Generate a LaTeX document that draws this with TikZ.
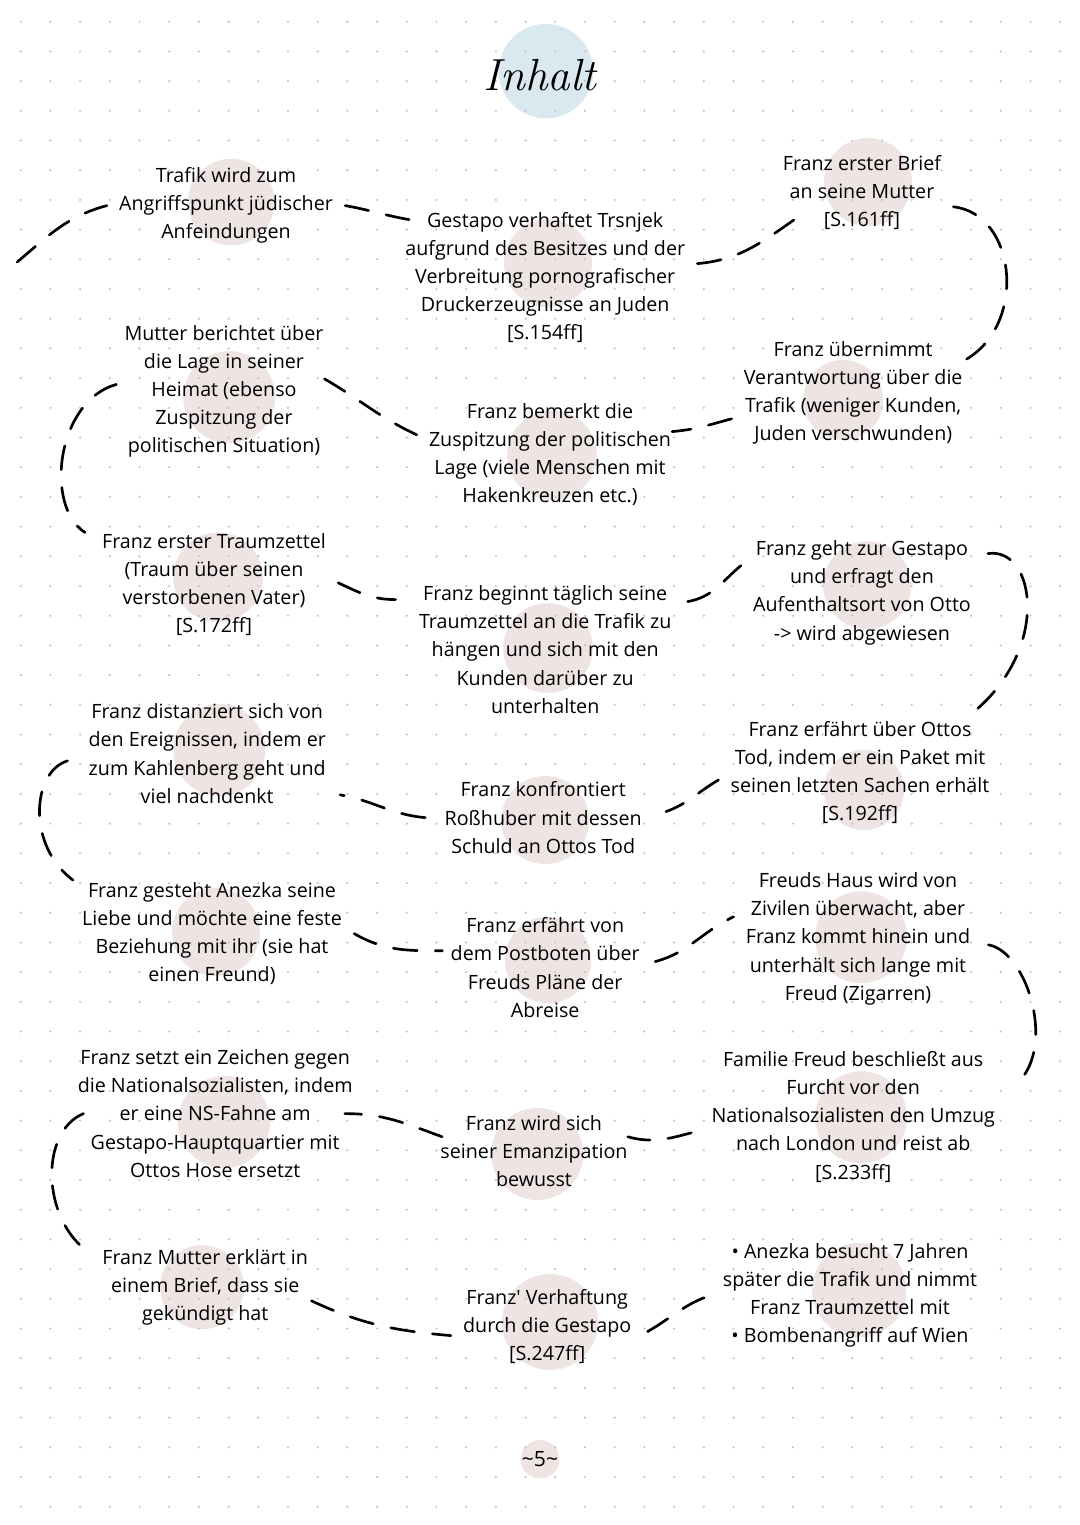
\documentclass[tikz,border=0pt]{standalone}
\usepackage{fontspec}
\usepackage{tikz}
\newfontfamily\notefont{Open Sans}
\definecolor{blobpink}{RGB}{238,228,228}
\definecolor{blobblue}{RGB}{218,233,239}
\definecolor{dotgray}{RGB}{196,196,196}

\begin{document}
\begin{tikzpicture}[
    txt/.style={align=center,inner sep=0.3cm,font=\notefont\fontsize{14}{20}\selectfont},
    blob/.style={fill=blobpink},
    dashline/.style={line width=1.9pt,line cap=round,dash pattern=on 0.6cm off 0.45cm}
  ]
  \useasboundingbox (0,0) rectangle (27,-38.125);
  \fill[white] (0,0) rectangle (27,-38.125);

  \fill[blobblue] (13.65,-1.78) circle (1.18);
  \fill[blob] (5.78,-5.05) circle (1.08);
  \fill[blob] (5.73,-9.93) circle (1.15);
  \fill[blob] (5.45,-14.43) circle (1.12);
  \fill[blob] (5.48,-18.75) circle (1.15);
  \fill[blob] (5.40,-23.30) circle (1.10);
  \fill[blob] (5.60,-28.05) circle (1.15);
  \fill[blob] (5.05,-32.18) circle (1.05);
  \fill[blob] (13.70,-6.58) circle (1.10);
  \fill[blob] (13.80,-11.38) circle (1.12);
  \fill[blob] (13.70,-16.20) circle (1.12);
  \fill[blob] (13.63,-20.50) circle (1.10);
  \fill[blob] (13.70,-24.00) circle (1.08);
  \fill[blob] (13.43,-28.85) circle (1.15);
  \fill[blob] (13.75,-33.05) circle (1.20);
  \fill[blob] (21.70,-4.55) circle (1.10);
  \fill[blob] (21.08,-10.00) circle (1.00);
  \fill[blob] (21.68,-14.63) circle (1.10);
  \fill[blob] (21.60,-19.75) circle (1.00);
  \fill[blob] (21.53,-23.43) circle (1.15);
  \fill[blob] (21.53,-27.93) circle (1.15);
  \fill[blob] (21.48,-32.25) circle (1.18);
  \fill[blob] (13.50,-36.48) circle (0.48);

  \foreach \i in {0,...,35}
    \foreach \j in {0,...,50}
      \fill[dotgray] (0.5175+0.7425*\i,-0.5425-0.7425*\j) circle (0.03);

  \node (titel) at (13.50,-1.88) {\fontsize{32}{32}\selectfont\itshape Inhalt};

  \node[txt] (trafik) at (5.65,-5.14) {Trafik wird zum\\Angriffspunkt jüdischer\\Anfeindungen};
  \node[txt] (mutter) at (5.60,-9.79) {Mutter berichtet über\\die Lage in seiner\\Heimat (ebenso\\Zuspitzung der\\politischen Situation)};
  \node[txt] (traum) at (5.35,-14.62) {Franz erster Traumzettel\\(Traum über seinen\\verstorbenen Vater)\\ {[S.172ff]}};
  \node[txt] (distanz) at (5.18,-18.84) {Franz distanziert sich von\\den Ereignissen, indem er\\zum Kahlenberg geht und\\viel nachdenkt};
  \node[txt] (anezka) at (5.30,-23.34) {Franz gesteht Anezka seine\\Liebe und möchte eine feste\\Beziehung mit ihr (sie hat\\einen Freund)};
  \node[txt] (zeichen) at (5.38,-27.84) {Franz setzt ein Zeichen gegen\\die Nationalsozialisten, indem\\er eine NS-Fahne am\\Gestapo-Hauptquartier mit\\Ottos Hose ersetzt};
  \node[txt] (kuendigt) at (5.13,-32.19) {Franz Mutter erklärt in\\einem Brief, dass sie\\gekündigt hat};

  \node[txt] (gestapo) at (13.63,-6.94) {Gestapo verhaftet Trsnjek\\aufgrund des Besitzes und der\\Verbreitung pornografischer\\Druckerzeugnisse an Juden\\ {[S.154ff]}};
  \node[txt] (bemerkt) at (13.75,-11.37) {Franz bemerkt die\\Zuspitzung der politischen\\Lage (viele Menschen mit\\Hakenkreuzen etc.)};
  \node[txt] (beginnt) at (13.63,-16.24) {Franz beginnt täglich seine\\Traumzettel an die Trafik zu\\hängen und sich mit den\\Kunden darüber zu\\unterhalten};
  \node[txt] (konfront) at (13.58,-20.44) {Franz konfrontiert\\Roßhuber mit dessen\\Schuld an Ottos Tod};
  \node[txt] (postbote) at (13.63,-24.19) {Franz erfährt von\\dem Postboten über\\Freuds Pläne der\\Abreise};
  \node[txt] (emanz) at (13.35,-28.77) {Franz wird sich\\seiner Emanzipation\\bewusst};
  \node[txt] (verhaftung) at (13.68,-33.17) {Franz\textquotesingle{} Verhaftung\\durch die Gestapo\\ {[S.247ff]}};

  \node[txt] (brief) at (21.55,-4.82) {Franz erster Brief\\an seine Mutter\\ {[S.161ff]}};
  \node[txt] (uebernimmt) at (21.33,-9.82) {Franz übernimmt\\Verantwortung über die\\Trafik (weniger Kunden,\\Juden verschwunden)};
  \node[txt] (besuch) at (21.55,-14.82) {Franz geht zur Gestapo\\und erfragt den\\Aufenthaltsort von Otto\\-> wird abgewiesen};
  \node[txt] (ottostod) at (21.50,-19.32) {Franz erfährt über Ottos\\Tod, indem er ein Paket mit\\seinen letzten Sachen erhält\\ {[S.192ff]}};
  \node[txt] (freudhaus) at (21.45,-23.47) {Freuds Haus wird von\\Zivilen überwacht, aber\\Franz kommt hinein und\\unterhält sich lange mit\\Freud (Zigarren)};
  \node[txt] (umzug) at (21.33,-27.92) {Familie Freud beschließt aus\\Furcht vor den\\Nationalsozialisten den Umzug\\nach London und reist ab\\ {[S.233ff]}};
  \node[txt] (ende) at (21.25,-32.39) {\textbullet{} Anezka besucht 7 Jahren\\später die Trafik und nimmt\\Franz Traumzettel mit\\\textbullet{} Bombenangriff auf Wien};

  \node[txt,font=\notefont\fontsize{15}{20}\selectfont] (seite) at (13.50,-36.48) {\textasciitilde 5\textasciitilde};

  \coordinate (anfang) at (0.43,-6.55);
  \draw[dashline] (anfang) to[out=40,in=195] (trafik.west);
  \draw[dashline] (trafik.east) to[out=-10,in=170] ([shift={(0.4,1.45)}]gestapo.west);
  \draw[dashline] ([yshift=0.35cm]gestapo.east) to[out=5,in=215] ([shift={(0.58,-0.68)}]brief.west);
  \draw[dashline] ([yshift=-0.35cm]brief.east) .. controls +(1.6,-0.18) and +(1.6,0.85) .. ([shift={(-0.28,0.8)}]uebernimmt.east);
  \draw[dashline] ([yshift=-0.65cm]uebernimmt.west) to[out=195,in=5] ([shift={(-0.28,0.58)}]bemerkt.east);
  \draw[dashline] ([yshift=0.5cm]bemerkt.west) to[out=155,in=-30] ([shift={(-0.3,0.33)}]mutter.east);
  \draw[dashline] ([shift={(0.1,0.18)}]mutter.west) .. controls +(-1.5,-0.42) and +(-1.02,0.65) .. ([shift={(-0.12,-0.28)}]traum.north west);
  \draw[dashline] ([yshift=0.05cm]traum.east) to[out=-25,in=180] ([shift={(-0.28,1.25)}]beginnt.west);
  \draw[dashline] ([shift={(0.1,1.2)}]beginnt.east) to[out=10,in=220] ([yshift=0.68cm]besuch.west);
  \draw[dashline] ([shift={(0.12,0.98)}]besuch.east) .. controls +(1.2,0.18) and +(2.05,1.6) .. ([shift={(-0.8,-0.15)}]ottostod.north east);
  \draw[dashline] ([yshift=-0.18cm]ottostod.west) to[out=210,in=20] ([shift={(0.3,0.15)}]konfront.east);
  \draw[dashline] ([xshift=-0.18cm]konfront.west) to[out=175,in=-10] ([shift={(0.05,-1.03)}]distanz.east);
  \draw[dashline] ([shift={(-0.22,-0.18)}]distanz.west) .. controls +(-0.9,-0.28) and +(-1.15,0.85) .. ([shift={(0.08,-0.25)}]anezka.north west);
  \draw[dashline] (anezka.east) to[out=-30,in=180] ([shift={(0.1,0.42)}]postbote.west);
  \draw[dashline] ([shift={(0.08,0.15)}]postbote.east) to[out=15,in=205] ([yshift=0.55cm]freudhaus.west);
  \draw[dashline] ([shift={(0.15,-0.15)}]freudhaus.east) .. controls +(1,-0.18) and +(1.08,0.85) .. ([shift={(0.18,0.78)}]umzug.east);
  \draw[dashline] ([shift={(-0.2,-0.4)}]umzug.west) to[out=195,in=-15] ([shift={(-0.3,0.35)}]emanz.east);
  \draw[dashline] ([shift={(0.35,0.35)}]emanz.west) to[out=160,in=0] ([xshift=-0.5cm]zeichen.east);
  \draw[dashline] ([xshift=0.45cm]zeichen.west) .. controls +(-1.1,-0.45) and +(-1.23,0.83) .. ([yshift=-0.4cm]kuendigt.north west);
  \draw[dashline] ([shift={(-0.22,-0.33)}]kuendigt.east) to[out=-25,in=175] ([yshift=-0.22cm]verhaftung.west);
  \draw[dashline] ([shift={(0.1,-0.12)}]verhaftung.east) to[out=30,in=195] ([shift={(0.15,0.05)}]ende.west);
\end{tikzpicture}
\end{document}
